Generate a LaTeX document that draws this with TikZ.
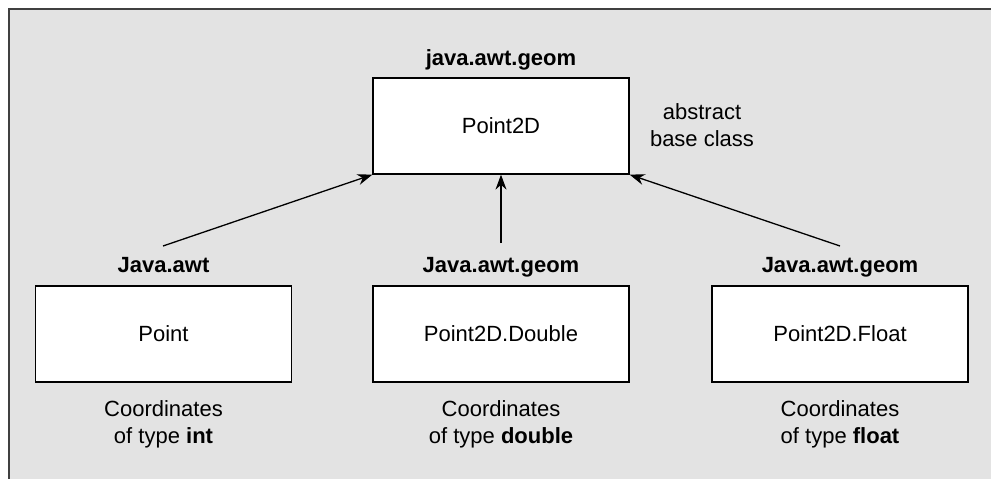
\documentclass[tikz,border=0pt]{standalone}
\usepackage{fontspec}
\setmainfont{Liberation Sans}
\usetikzlibrary{arrows.meta}
\definecolor{panelgray}{HTML}{E3E3E3}
\definecolor{edgegray}{HTML}{404040}
\begin{document}
\begin{tikzpicture}[x=1pt,y=-1pt,
  classbox/.style={draw=black,line width=1.3pt,fill=white,minimum width=256pt,minimum height=96pt,inner sep=0pt,font=\fontsize{22}{27}\selectfont},
  pkg/.style={anchor=base,inner sep=0pt,font=\fontsize{22}{27}\selectfont\bfseries},
  note/.style={align=center,inner sep=0pt,font=\fontsize{22}{27}\selectfont},
  inherit/.style={line width=1.3pt,-{Stealth[length=15pt,width=11pt]}}]
\useasboundingbox (0,0) rectangle (991,479);
\fill[white] (0,0) rectangle (991,479);
\fill[panelgray] (9,9) rectangle (991,479);
\draw[edgegray,line width=2pt] (9,479) -- (9,9) -- (991,9);
% top class
\node[classbox] (p2d) at (501,126) {Point2D};
\node[pkg] (p2dpkg) at (501,65) {java.awt.geom};
\node[note] (abs) at (702,125.5) {abstract\\base class};
% bottom classes
\node[classbox] (pt) at (163.5,334) {Point};
\node[classbox] (pd) at (501,334) {Point2D.Double};
\node[classbox] (pf) at (840,334) {Point2D.Float};
\node[pkg] (ptpkg) at (163.5,272) {Java.awt};
\node[pkg] (pdpkg) at (501,272) {Java.awt.geom};
\node[pkg] (pfpkg) at (840,272) {Java.awt.geom};
\node[note] (ptn) at (163.5,424.5) {Coordinates\\of type \textbf{int}};
\node[note] (pdn) at (501,424.5) {Coordinates\\of type \textbf{double}};
\node[note] (pfn) at (840,424.5) {Coordinates\\of type \textbf{float}};
% arrows
\coordinate (sa) at (163,246);
\coordinate (sb) at (501,243);
\coordinate (sc) at (840,246);
\draw[inherit] (sa) -- (p2d.south west);
\draw[inherit] (sb) -- (p2d.south);
\draw[inherit] (sc) -- (p2d.south east);
\end{tikzpicture}
\end{document}
